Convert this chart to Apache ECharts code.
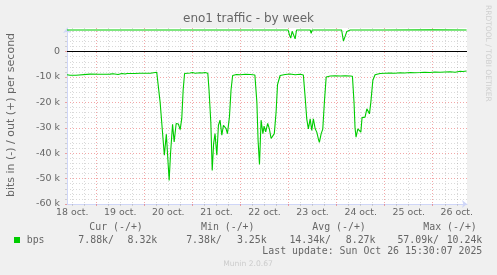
<!DOCTYPE html>
<html><head><meta charset="utf-8">
<script src="https://cdn.jsdelivr.net/npm/echarts@6/dist/echarts.min.js"></script>
<style>html,body{margin:0;padding:0;background:#f0f0f0;overflow:hidden}#c{width:497px;height:275px}</style>
</head><body><div id="c"></div>
<script>
// ---- text ----
const chartTitle = 'eno1 traffic - by week';
const yAxisTitle = 'bits in (-) / out (+) per second';
const sideText = 'RRDTOOL / TOBI OETIKER';
const footerText = 'Munin 2.0.67';
const lastUpdate = 'Last update: Sun Oct 26 15:30:07 2025';
const seriesName = 'bps';
const legendHeaders = ['Cur (-/+)', 'Min (-/+)', 'Avg (-/+)', 'Max (-/+)'];
const statsIn = ['7.88k/', '7.38k/', '14.34k/', '57.09k/'];
const statsOut = ['8.32k', '3.25k', '8.27k', '10.24k'];

// ---- axes (x in hours since 18 oct 00:00, y in k bits/s) ----
const dayLabels = ['18 oct.', '19 oct.', '20 oct.', '21 oct.', '22 oct.', '23 oct.', '24 oct.', '25 oct.', '26 oct.'];
const dayNoonHours = [12, 36, 60, 84, 108, 132, 156, 180, 204];
const midnightHours = [24, 48, 72, 96, 120, 144, 168, 192];
const sixHourHours = [12, 18, 30, 36, 42, 54, 60, 66, 78, 84, 90, 102, 108, 114, 126, 132, 138, 150, 156, 162, 174, 180, 186, 198, 204];
const yMajorTicks = [-60, -50, -40, -30, -20, -10, 0];
const yMinorTicks = [-58, -56, -54, -52, -48, -46, -44, -42, -38, -36, -34, -32, -28, -26, -24, -22, -18, -16, -14, -12, -8, -6, -4, -2, 2, 4, 6, 8];
const X_MIN = 9.4, X_MAX = 209.1, Y_MIN = -60, Y_MAX = 9.3;

// ---- data: in (-) ----
const inHours = [9.4, 10.1, 10.9, 13.9, 14.4, 20.9, 25.0, 30.9, 31.4, 32.4, 34.9, 36.9, 38.4, 39.4, 41.4, 41.9, 43.0, 45.9, 48.4, 51.0, 54.2, 54.9, 55.9, 56.9, 58.0, 59.0, 60.4, 61.1, 62.1, 62.9, 63.9, 65.0, 65.9, 66.7, 67.4, 68.1, 69.0, 70.9, 72.0, 73.4, 75.8, 77.0, 78.3, 79.7, 80.3, 81.2, 81.9, 82.6, 83.3, 84.2, 85.0, 85.8, 86.7, 87.5, 88.8, 89.5, 90.5, 91.3, 92.1, 94.0, 96.0, 98.5, 101.0, 103.2, 104.2, 104.8, 105.5, 106.3, 107.2, 107.8, 108.6, 109.6, 110.4, 111.3, 112.1, 112.9, 113.8, 114.5, 115.8, 118.3, 120.8, 123.3, 125.8, 127.4, 128.3, 129.1, 129.9, 130.8, 131.6, 132.4, 133.3, 134.1, 134.9, 135.4, 136.3, 137.1, 137.9, 138.8, 139.3, 140.8, 143.3, 145.8, 148.3, 150.8, 151.9, 152.7, 153.2, 153.7, 154.6, 155.2, 156.1, 156.7, 158.2, 159.1, 159.9, 160.4, 161.1, 162.1, 163.2, 164.1, 165.7, 168.0, 170.7, 173.0, 175.7, 178.0, 180.7, 183.0, 185.7, 188.0, 190.7, 193.0, 195.7, 198.0, 200.7, 203.2, 205.7, 207.0, 208.9];
const inValues = [-9.1, -8.8, -9.3, -9.3, -8.9, -8.85, -8.9, -8.85, -8.6, -8.7, -9.0, -8.6, -8.8, -8.6, -8.6, -8.9, -8.6, -8.5, -8.5, -8.5, -8.1, -8.6, -20, -30, -40.8, -32.5, -50.7, -40, -28.6, -35.6, -28.3, -28.5, -30.7, -26.3, -15, -8.6, -8.3, -8.4, -8.2, -8.5, -8.3, -8.4, -8.2, -8.5, -15, -27.8, -46.8, -36.2, -32.3, -40.8, -29, -27, -32.9, -29, -30.3, -32.3, -25.7, -15, -9.4, -9.0, -9.1, -8.9, -9.0, -9.2, -20, -35, -44.4, -27, -32.3, -29.3, -31.6, -28.3, -30.3, -34.2, -34.2, -32.3, -23.7, -13, -9.4, -9.0, -8.8, -9.1, -8.9, -9.2, -18, -26.5, -30.4, -26.5, -31, -26.5, -30.4, -31.7, -34.4, -35.7, -32.3, -30.5, -19.9, -10, -9.5, -9.6, -9.5, -9.6, -9.5, -9.6, -9.7, -20, -30, -33.7, -30.4, -31, -31.7, -26, -25.8, -22.5, -23.1, -24.5, -19.9, -11.3, -9.1, -8.7, -8.6, -8.5, -8.4, -8.5, -8.3, -8.4, -8.2, -8.3, -8.2, -8.1, -8.2, -8.0, -8.1, -8.0, -7.9, -8.1, -7.7, -7.8, -7.6];

// ---- data: out (+) ----
const outHours = [9.4, 21.9, 22.6, 23.2, 72.0, 72.5, 73.0, 119.8, 120.5, 121.1, 121.8, 122.5, 123.3, 124.0, 130.8, 131.3, 131.8, 146.5, 147.4, 148.2, 149.1, 149.7, 150.8, 168.0, 168.2, 168.6, 192.0, 208.9];
const outValues = [8.5, 8.5, 8.9, 8.5, 8.5, 8.3, 8.5, 8.5, 6.5, 5.3, 8.0, 8.4, 5.0, 8.5, 8.5, 7.2, 8.5, 8.5, 4.2, 5.9, 7.9, 8.3, 8.5, 8.5, 8.7, 8.5, 8.6, 8.5];

const GREEN = '#00cc00';
const FONT = '#666666';
const AXIS = '#CFD6F8';
const GRID_MINOR = 'rgba(140,140,140,0.33)';
const GRID_MAJOR = 'rgba(230,80,80,0.5)';
const rect = {left: 67, right: 30, top: 28, bottom: 71};

function gridXAxis(idx, ticks, color) {
  return {gridIndex: idx, type: 'value', min: X_MIN, max: X_MAX,
    axisLine: {show: false, onZero: false},
    axisLabel: {show: false},
    axisTick: {show: true, customValues: ticks, length: 2, lineStyle: {color: color}},
    splitLine: {show: true, lineStyle: {color: color, width: 1, type: [1, 2]}}};
}
function gridYAxis(idx, ticks, color) {
  return {gridIndex: idx, type: 'value', min: Y_MIN, max: Y_MAX,
    axisLine: {show: false, onZero: false},
    axisLabel: {show: false},
    axisTick: {show: true, customValues: ticks, length: 2, lineStyle: {color: color}},
    splitLine: {show: true, lineStyle: {color: color, width: 1, type: [1, 2]}}};
}

const chart = echarts.init(document.getElementById('c'), null, {renderer: 'canvas'});
const mono = '"DejaVu Sans Mono", monospace';
const sans = '"DejaVu Sans", sans-serif';
const graphics = [];
graphics.push({type: 'text', x: 11, y: 115, rotation: Math.PI / 2,
  style: {text: yAxisTitle, fontSize: 11, fontFamily: sans, fill: FONT, align: 'center', verticalAlign: 'middle'}});
graphics.push({type: 'text', x: 487.5, y: 5, rotation: -Math.PI / 2,
  style: {text: sideText, fontSize: 7.5, fontFamily: sans, fill: '#cfcfcf', align: 'left', verticalAlign: 'middle'}});
const headerX = [89.3, 201, 312.3, 423.3];
legendHeaders.forEach((t, i) => graphics.push({type: 'text', x: headerX[i], y: 227,
  style: {text: t, fontSize: 9.9, fontFamily: mono, fill: FONT, align: 'left', verticalAlign: 'middle'}}));
graphics.push({type: 'rect', shape: {x: 14, y: 237, width: 6, height: 6}, style: {fill: GREEN}});
graphics.push({type: 'text', x: 26.7, y: 240,
  style: {text: seriesName, fontSize: 9.9, fontFamily: mono, fill: FONT, align: 'left', verticalAlign: 'middle'}});
const inEnd = [114, 221.8, 331, 439];
const outEnd = [157.3, 266.7, 375.5, 482.3];
statsIn.forEach((t, i) => graphics.push({type: 'text', x: inEnd[i], y: 240,
  style: {text: t, fontSize: 9.9, fontFamily: mono, fill: FONT, align: 'right', verticalAlign: 'middle'}}));
statsOut.forEach((t, i) => graphics.push({type: 'text', x: outEnd[i], y: 240,
  style: {text: t, fontSize: 9.9, fontFamily: mono, fill: FONT, align: 'right', verticalAlign: 'middle'}}));
graphics.push({type: 'text', x: 482.3, y: 251.5,
  style: {text: lastUpdate, fontSize: 9.9, fontFamily: mono, fill: FONT, align: 'right', verticalAlign: 'middle'}});
graphics.push({type: 'text', x: 248, y: 264,
  style: {text: footerText, fontSize: 7.6, fontFamily: sans, fill: '#cccccc', align: 'center', verticalAlign: 'middle'}});

chart.setOption({
  animation: false,
  backgroundColor: '#f0f0f0',
  title: {text: chartTitle, left: 'center', top: 13, padding: 0,
    textStyle: {fontSize: 12, fontWeight: 'normal', color: FONT, fontFamily: sans}},
  grid: [
    Object.assign({show: true, backgroundColor: '#ffffff', borderWidth: 0}, rect),
    Object.assign({}, rect),
    Object.assign({}, rect)
  ],
  xAxis: [
    gridXAxis(0, sixHourHours, GRID_MINOR),
    gridXAxis(1, midnightHours, GRID_MAJOR),
    {gridIndex: 2, type: 'value', min: X_MIN, max: X_MAX,
      axisLine: {show: true, onZero: false, symbol: ['none', 'arrow'], symbolSize: [6, 5], lineStyle: {color: AXIS, width: 1}},
      axisTick: {show: false}, splitLine: {show: false},
      axisLabel: {customValues: dayNoonHours, margin: 4, color: FONT, fontSize: 9.4, fontFamily: sans,
        formatter: v => dayLabels[dayNoonHours.indexOf(v)]}}
  ],
  yAxis: [
    gridYAxis(0, yMinorTicks, GRID_MINOR),
    gridYAxis(1, yMajorTicks, GRID_MAJOR),
    {gridIndex: 2, type: 'value', min: Y_MIN, max: Y_MAX,
      axisLine: {show: true, onZero: false, symbol: ['none', 'arrow'], symbolSize: [6, 5], lineStyle: {color: AXIS, width: 1}},
      axisTick: {show: false}, splitLine: {show: false},
      axisLabel: {customValues: yMajorTicks, margin: 7, color: FONT, fontSize: 9.5, fontFamily: sans,
        formatter: v => (v === 0 ? '0' : v + ' k')}}
  ],
  graphic: graphics,
  series: [
    {type: 'line', name: 'in', xAxisIndex: 2, yAxisIndex: 2, showSymbol: false, symbol: 'none',
      data: inHours.map((h, i) => [h, inValues[i]]),
      lineStyle: {color: GREEN, width: 1.1},
      markLine: {silent: true, symbol: 'none', label: {show: false},
        lineStyle: {color: '#000000', width: 1, type: 'solid'}, data: [{yAxis: 0}]}},
    {type: 'line', name: 'out', xAxisIndex: 2, yAxisIndex: 2, showSymbol: false, symbol: 'none',
      data: outHours.map((h, i) => [h, outValues[i]]),
      lineStyle: {color: GREEN, width: 1.1}}
  ]
});
</script></body></html>
